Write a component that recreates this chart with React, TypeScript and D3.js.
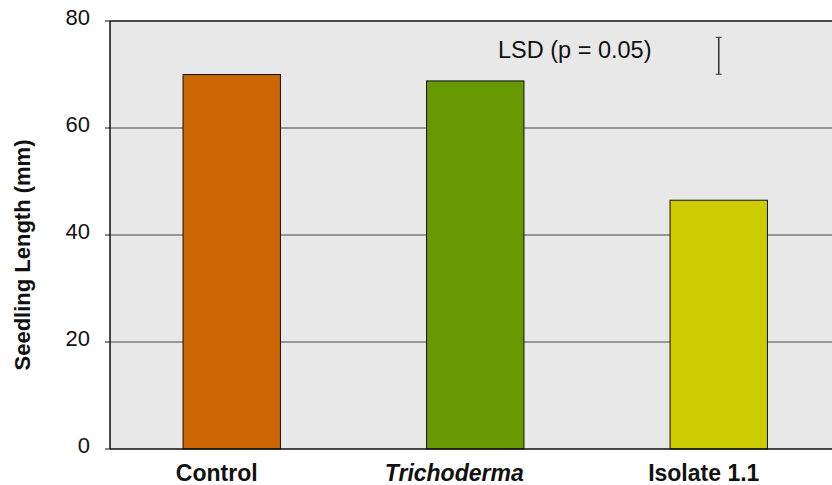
import React from "react";
import * as d3 from "d3";

const categories = ["Control", "Trichoderma", "Isolate 1.1"];
const values = [70, 68.8, 46.5];
const colors = ["#cc6600", "#669900", "#cccc00"];
const yTicks = [0, 20, 40, 60, 80];
const lsdCenter = 73.5;
const lsdHalf = 3.45;
const lsdLabel = "LSD (p = 0.05)";
const yLabel = "Seedling Length (mm)";

const LABEL_SHIFT = [-15, -21, -15];

export default function App() {
  const W = 832, H = 485;
  const left = 110, right = 840.5, top = 21, bottom = 449;
  const y = d3.scaleLinear().domain([0, 80]).range([bottom, top]);
  const x = d3.scaleBand<string>().domain(categories).range([left, right]).paddingInner(0.6).paddingOuter(0.3);
  const font = "Arial, 'Liberation Sans', sans-serif";
  const lsdX = (x("Isolate 1.1") as number) + x.bandwidth() / 2;
  return (
    <svg width={W} height={H} style={{ position: "absolute", left: 0, top: 0 }} fontFamily={font}>
      <rect x={left} y={top} width={right - left} height={bottom - top} fill="#e8e8e8" />
      {yTicks.filter(t => t > 0 && t < 80).map(t => (
        <line key={t} x1={left} x2={right} y1={y(t)} y2={y(t)} stroke="#444" strokeWidth={1} />
      ))}
      <line x1={left} x2={right} y1={y(80)} y2={y(80)} stroke="#111" strokeWidth={1.5} />
      {categories.map((c, i) => (
        <rect key={c} x={x(c)} y={y(values[i])} width={x.bandwidth()} height={bottom - y(values[i])}
          fill={colors[i]} stroke="#111" strokeWidth={1} />
      ))}
      <line x1={left} x2={right} y1={bottom} y2={bottom} stroke="#111" strokeWidth={1.5} />
      <line x1={left} x2={left} y1={top} y2={bottom} stroke="#111" strokeWidth={1.5} />
      {yTicks.map(t => (
        <g key={t}>
          <line x1={left - 5} x2={left} y1={y(t)} y2={y(t)} stroke="#111" strokeWidth={1} />
          <text x={90} y={y(t) + 3.5} textAnchor="end" fontSize={22} fill="#111">{t}</text>
        </g>
      ))}
      {categories.map((c, i) => (
        <text key={c} x={(x(c) as number) + x.bandwidth() / 2 + LABEL_SHIFT[i]} y={481} textAnchor="middle"
          fontSize={23} fontWeight="bold" fontStyle={i === 1 ? "italic" : "normal"} fill="#111">{c}</text>
      ))}
      <text transform={`translate(30,${(top + bottom) / 2 + 20}) rotate(-90)`} textAnchor="middle"
        fontSize={22} fontWeight="bold" fill="#111">{yLabel}</text>
      <text x={498} y={58} fontSize={23.5} fill="#111">{lsdLabel}</text>
      <g stroke="#333">
        <line x1={lsdX} x2={lsdX} y1={y(lsdCenter + lsdHalf)} y2={y(lsdCenter - lsdHalf)} strokeWidth={1.5} />
        <line x1={lsdX - 3} x2={lsdX + 3} y1={y(lsdCenter + lsdHalf)} y2={y(lsdCenter + lsdHalf)} strokeWidth={1} />
        <line x1={lsdX - 3} x2={lsdX + 3} y1={y(lsdCenter - lsdHalf)} y2={y(lsdCenter - lsdHalf)} strokeWidth={1} />
      </g>
    </svg>
  );
}
